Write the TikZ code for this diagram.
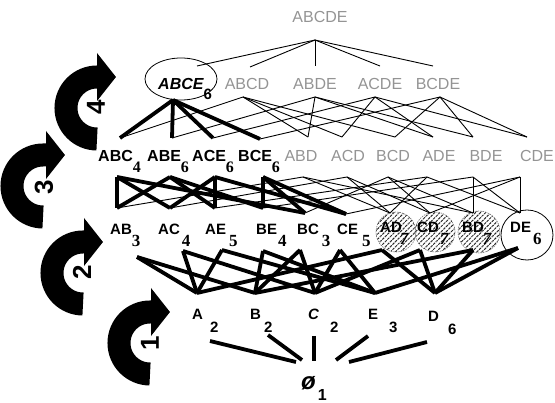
\documentclass[tikz,border=0pt]{standalone}
\usepackage{fontspec}
\setmainfont{Liberation Sans}
\newfontfamily\serifb{Liberation Serif}
\usetikzlibrary{arrows.meta,patterns.meta}
\newcommand\ssub[1]{\raisebox{-12pt}{\serifb\bfseries\fontsize{17}{17}\selectfont #1}}
\newcommand\isub[1]{\raisebox{-12pt}{\serifb\bfseries\itshape\fontsize{17}{17}\selectfont #1}}
\newcommand\tsub[1]{\raisebox{-11pt}{\serifb\bfseries\fontsize{16}{16}\selectfont #1}}
\newcommand\asub[1]{\raisebox{-13pt}{\bfseries\fontsize{15}{15}\selectfont #1}}
\begin{document}
\begin{tikzpicture}[x=1pt,y=-1pt,
  thk/.style={line width=3.8pt},
  thn/.style={line width=0.9pt},
  lv1/.style={inner sep=0, anchor=base west, font=\bfseries\fontsize{15}{15}\selectfont},
  lv2/.style={inner sep=0, anchor=base west, font=\bfseries\fontsize{15}{15}\selectfont},
  lv3/.style={inner sep=0, anchor=base west, font=\bfseries\fontsize{16}{16}\selectfont},
  grey/.style={inner sep=0, anchor=base, text=black!42, font=\fontsize{16}{16}\selectfont},
  digit/.style={inner sep=0, rotate=90, font=\bfseries\fontsize{26}{26}\selectfont},
  bigarrow/.style={line width=23pt, -{Triangle[length=19pt,width=47pt]}},
  hatch/.style={draw=black!55, line width=0.6pt, dash pattern=on 1.5pt off 1pt,
    pattern={Lines[angle=45,distance=3.6pt,line width=1pt]}, pattern color=black!85}]
\useasboundingbox (0,0) rectangle (555,403);

% ---------- curved arrows ----------
\draw[bigarrow] (150,374) arc[start angle=90,end angle=270,radius=31] -- ++(20,0);
\draw[bigarrow] (83,304) arc[start angle=90,end angle=270,radius=31] -- ++(20,0);
\draw[bigarrow] (43,217) arc[start angle=90,end angle=270,radius=31] -- ++(22,0);
\draw[bigarrow] (97,139) arc[start angle=90,end angle=270,radius=31] -- ++(19,0);
\node[digit] (n1) at (150,343) {1};
\node[digit] (n2) at (82,272) {2};
\node[digit] (n3) at (44,187) {3};
\node[digit] (n4) at (96,107) {4};

% ---------- ellipses and hatched circles ----------
\draw[line width=0.8pt] (181,79) ellipse[x radius=36, y radius=21];
\draw[line width=0.8pt] (527,235) ellipse[x radius=26, y radius=25];
\path[hatch] (396,232) circle[radius=20];
\path[hatch] (435,232) circle[radius=20];
\path[hatch] (479,232) circle[radius=21];

% ---------- anchor coordinates ----------
\coordinate (t5) at (315,40);
\coordinate (ABCE4t) at (197,66);  \coordinate (ABCD4t) at (250,67);
\coordinate (ABDE4t) at (315,66);  \coordinate (ACDE4t) at (380,66);
\coordinate (BCDE4t) at (433,66);
\coordinate (ABCE4b) at (173,100); \coordinate (ABCD4b) at (243,97);
\coordinate (ABDE4b) at (315,97);  \coordinate (ACDE4b) at (375,97);
\coordinate (BCDE4b) at (440,97);
\coordinate (ABC3t) at (120,138); \coordinate (ABE3t) at (172,138);
\coordinate (ACE3t) at (213,138); \coordinate (BCE3t) at (260,139);
\coordinate (ABD3t) at (308,137); \coordinate (ACD3t) at (342,137);
\coordinate (BCD3t) at (395,137); \coordinate (ADE3t) at (433,137);
\coordinate (BDE3t) at (473,137); \coordinate (CDE3t) at (527,137);
\coordinate (ABC3b) at (117,177); \coordinate (ABE3b) at (170,177);
\coordinate (ACE3b) at (215,177); \coordinate (BCE3b) at (263,177);
\coordinate (ABD3b) at (303,177); \coordinate (ACD3b) at (347,177);
\coordinate (BCD3b) at (388,177); \coordinate (ADE3b) at (427,177);
\coordinate (BDE3b) at (473,177); \coordinate (CDE3b) at (520,177);
\coordinate (AB2t) at (117,208); \coordinate (AC2t) at (170,208);
\coordinate (AE2t) at (215,208); \coordinate (BE2t) at (263,208);
\coordinate (BC2t) at (305,213); \coordinate (CE2t) at (346,214);
\coordinate (AD2t) at (390,213); \coordinate (CD2t) at (430,213);
\coordinate (BD2t) at (473,213); \coordinate (DE2t) at (520,213);
\coordinate (AB2b) at (137,257); \coordinate (AC2b) at (183,251);
\coordinate (AE2b) at (222,250); \coordinate (BE2b) at (263,251);
\coordinate (BC2b) at (300,250); \coordinate (CE2b) at (340,250);
\coordinate (AD2b) at (382,250); \coordinate (CD2b) at (420,250);
\coordinate (BD2b) at (473,250); \coordinate (DE2b) at (518,248);
\coordinate (A1t) at (197,293); \coordinate (B1t) at (255,293);
\coordinate (C1t) at (315,293); \coordinate (E1t) at (375,293);
\coordinate (D1t) at (435,293);
\coordinate (A0) at (210,341); \coordinate (z1) at (296,362);
\coordinate (B0) at (268,335); \coordinate (z2) at (302,360);
\coordinate (C0) at (314,336); \coordinate (z3) at (314,361);
\coordinate (E0) at (368,336); \coordinate (z4) at (336,360);
\coordinate (D0) at (427,342); \coordinate (z5) at (349,362);

% ---------- connectors ----------
\foreach \p/\q in {t5/ABCE4t,t5/ABCD4t,t5/ABDE4t,t5/ACDE4t,t5/BCDE4t}
  \draw[thn] (\p) -- (\q);
\foreach \p/\q in {ABCD4b/ABC3t,ABCD4b/ABD3t,ABCD4b/ACD3t,ABCD4b/BCD3t,
  ABDE4b/ABE3t,ABDE4b/ABD3t,ABDE4b/ADE3t,ABDE4b/BDE3t,
  ACDE4b/ACE3t,ACDE4b/ACD3t,ACDE4b/ADE3t,ACDE4b/CDE3t,
  BCDE4b/BCE3t,BCDE4b/BCD3t,BCDE4b/BDE3t,BCDE4b/CDE3t}
  \draw[thn] (\p) -- (\q);
\foreach \p/\q in {ABCE4b/ABC3t,ABCE4b/ABE3t,ABCE4b/ACE3t,ABCE4b/BCE3t}
  \draw[thk] (\p) -- (\q);
\foreach \p/\q in {ABD3b/AB2t,ABD3b/AD2t,ABD3b/BD2t,ACD3b/AC2t,ACD3b/AD2t,ACD3b/CD2t,
  BCD3b/BC2t,BCD3b/BD2t,BCD3b/CD2t,ADE3b/AD2t,ADE3b/AE2t,ADE3b/DE2t,
  BDE3b/BD2t,BDE3b/BE2t,BDE3b/DE2t,CDE3b/CD2t,CDE3b/CE2t,CDE3b/DE2t}
  \draw[thn] (\p) -- (\q);
\foreach \p/\q in {ABC3b/AB2t,ABC3b/AC2t,ABC3b/BC2t,ABE3b/AB2t,ABE3b/AE2t,ABE3b/BE2t,
  ACE3b/AC2t,ACE3b/AE2t,ACE3b/CE2t,BCE3b/BC2t,BCE3b/BE2t,BCE3b/CE2t}
  \draw[thk] (\p) -- (\q);
\foreach \p/\q in {AB2b/A1t,AB2b/B1t,AC2b/A1t,AC2b/C1t,AE2b/A1t,AE2b/E1t,
  BE2b/B1t,BE2b/E1t,BC2b/B1t,BC2b/C1t,CE2b/C1t,CE2b/E1t,AD2b/A1t,AD2b/D1t,
  CD2b/C1t,CD2b/D1t,BD2b/B1t,BD2b/D1t,DE2b/E1t,DE2b/D1t}
  \draw[thk] (\p) -- (\q);
\foreach \p/\q in {A0/z1,B0/z2,C0/z3,E0/z4,D0/z5}
  \draw[thk] (\p) -- (\q);

% ---------- labels ----------
\node[grey] (ABCDE) at (320,23) {ABCDE};
\node[inner sep=0, anchor=base west, font=\bfseries\itshape\fontsize{16}{16}\selectfont] (ABCE)
  at (158,90) {ABCE\raisebox{-10pt}{\upshape\fontsize{15}{15}\selectfont 6}};
\node[grey] (ABCD) at (247,90) {ABCD};
\node[grey] (ABDE) at (315,90) {ABDE};
\node[grey] (ACDE) at (380,90) {ACDE};
\node[grey] (BCDE) at (438,90) {BCDE};

\node[lv3] (ABC) at (98,162) {ABC\tsub{4}};
\node[lv3] (ABE) at (147,162) {ABE\tsub{6}};
\node[lv3] (ACE) at (192,162) {ACE\tsub{6}};
\node[lv3] (BCE) at (238,162) {BCE\tsub{6}};
\node[grey] (ABD) at (301,162) {ABD};
\node[grey] (ACD) at (348,162) {ACD};
\node[grey] (BCD) at (393,162) {BCD};
\node[grey] (ADE) at (439,162) {ADE};
\node[grey] (BDE) at (486,162) {BDE};
\node[grey] (CDE) at (537,162) {CDE};

\node[lv2] (AB) at (110,235) {AB\ssub{3}};
\node[lv2] (AC) at (158,235) {AC\kern2pt\ssub{4}};
\node[lv2] (AE) at (205,235) {AE\kern3pt\ssub{5}};
\node[lv2] (BE) at (256,235) {BE\kern1pt\ssub{4}};
\node[lv2] (BC) at (297,235) {BC\kern3pt\ssub{3}};
\node[lv2] (CE) at (337,235) {CE\kern4pt\ssub{5}};
\node[lv2] (AD) at (380,233) {AD\kern-2pt\isub{7}};
\node[lv2] (CD) at (417,233) {CD\kern1pt\isub{7}};
\node[lv2] (BD) at (462,233) {BD\kern-1pt\isub{7}};
\node[lv2] (DE) at (510,233) {DE\kern2pt\ssub{6}};

\node[lv1] (A) at (192,320) {A\kern7pt\asub{2}};
\node[lv1] (B) at (250,320) {B\kern3pt\asub{2}};
\node[lv1, font=\bfseries\itshape\fontsize{15}{15}\selectfont] (C) at (308,320) {C\kern11pt\asub{\upshape 2}};
\node[lv1] (E) at (368,320) {E\kern11pt\asub{3}};
\node[lv1] (D) at (428,322) {D\kern9pt\asub{6}};

\node[inner sep=0, anchor=base west, font=\bfseries\itshape\fontsize{24}{24}\selectfont] (empty)
  at (301,390) {ø\kern2pt\raisebox{-11pt}{\upshape\fontsize{16}{16}\selectfont 1}};
\end{tikzpicture}
\end{document}
